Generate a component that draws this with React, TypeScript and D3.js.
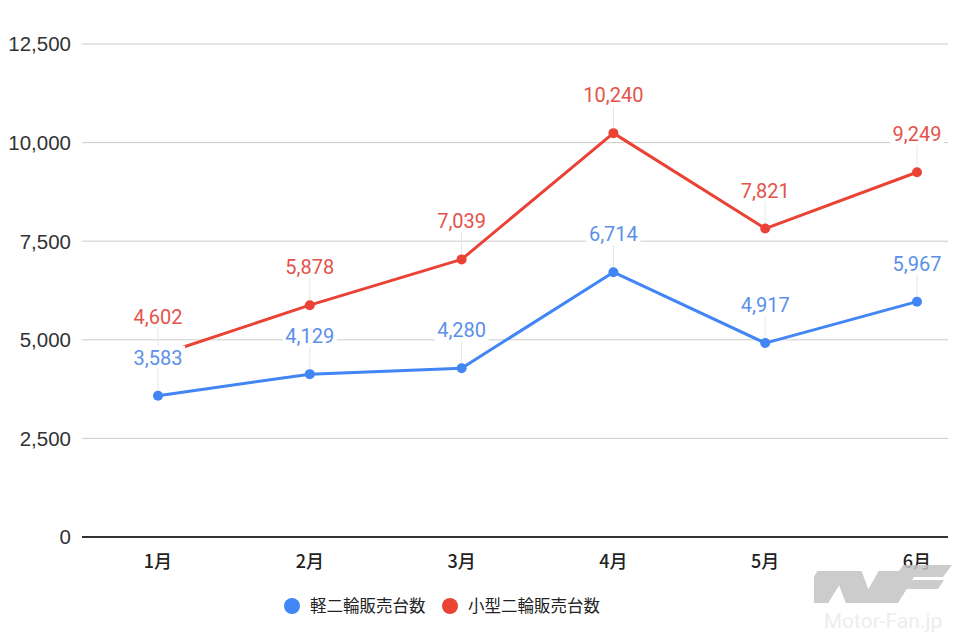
import * as d3 from 'd3';
import { useEffect } from 'react';

const months = ['1月', '2月', '3月', '4月', '5月', '6月'];
const keiValues = [3583, 4129, 4280, 6714, 4917, 5967];
const kogataValues = [4602, 5878, 7039, 10240, 7821, 9249];
const yTicks = [0, 2500, 5000, 7500, 10000, 12500];

const series = [
  { name: '軽二輪販売台数', values: keiValues, color: '#4285F4', label: '#5B8FEA' },
  { name: '小型二輪販売台数', values: kogataValues, color: '#EA4335', label: '#E4534A' },
];

const width = 960;
const height = 640;
const plotLeft = 82;
const plotRight = 948;

const fmt = d3.format(',');

// rough width of a label in 20px Roboto
const labelWidth = (s: string) =>
  s.split('').reduce((w, c) => w + (c === ',' ? 4.9 : 11.3), 0);

const App = () => {
  useEffect(() => {
    document.body.style.margin = '0';
  }, []);

  const x = d3.scalePoint<string>().domain(months).range([158, 917]);
  const y = d3.scaleLinear().domain([0, 12500]).range([537, 44]);

  const line = d3
    .line<number>()
    .x((_, i) => x(months[i])!)
    .y((d) => y(d));

  return (
    <svg width={width} height={height} style={{ display: 'block', background: '#fff' }}>
      {/* grid */}
      {yTicks.map((t) => (
        <g key={t}>
          <line
            x1={plotLeft}
            x2={plotRight}
            y1={y(t)}
            y2={y(t)}
            stroke={t === 0 ? '#333' : '#cccccc'}
            strokeWidth={t === 0 ? 2 : 1}
          />
          <text
            x={71}
            y={y(t)}
            dy="0.36em"
            textAnchor="end"
            fontFamily="'Liberation Sans', Arial, sans-serif"
            fontSize={20.5}
            fill="#333"
          >
            {fmt(t)}
          </text>
        </g>
      ))}

      {/* x labels */}
      {months.map((m) => (
        <text
          key={m}
          x={x(m)}
          y={568}
          textAnchor="middle"
          fontFamily="'Noto Sans CJK JP', sans-serif"
          fontSize={18}
          fontWeight={500}
          fill="#222"
        >
          {m}
        </text>
      ))}

      {/* watermark */}
      <g opacity={0.85}>
        <clipPath id="wm-clip">
          <rect x={814} y={571} width={90} height={32} />
        </clipPath>
        <polyline
          clipPath="url(#wm-clip)"
          points="790,640 842,556 866,620 902,556 920,600"
          fill="none"
          stroke="#c4c4c4"
          strokeWidth={26}
          strokeLinejoin="miter"
        />
        <polygon points="903,565 952,565 943,577 895,577" fill="#c4c4c4" />
        <polygon points="895,577 914,577 898,603 879,603" fill="#c4c4c4" />
        <polygon points="912,580 944,580 938,589 906,589" fill="#c4c4c4" />
        <text
          x={883}
          y={628}
          textAnchor="middle"
          fontFamily="Roboto, sans-serif"
          fontSize={21}
          fill="#ebebeb"
        >
          Motor-Fan.jp
        </text>
      </g>

      {/* leader lines */}
      {series.map((s) =>
        s.values.map((v, i) => (
          <line
            key={`${s.name}-lead-${i}`}
            x1={x(months[i])}
            x2={x(months[i])}
            y1={y(v)}
            y2={y(v) - 28}
            stroke="#e6e6e6"
            strokeWidth={1}
          />
        ))
      )}

      {/* lines and points */}
      {series.map((s) => (
        <g key={s.name}>
          <path d={line(s.values)!} fill="none" stroke={s.color} strokeWidth={3} strokeLinejoin="round" />
          {s.values.map((v, i) => (
            <circle key={i} cx={x(months[i])} cy={y(v)} r={5} fill={s.color} />
          ))}
        </g>
      ))}

      {/* value labels */}
      {series.map((s) =>
        s.values.map((v, i) => {
          const text = fmt(v);
          const w = labelWidth(text);
          const cx = x(months[i])!;
          const base = y(v) - 31;
          return (
            <g key={`${s.name}-lab-${i}`}>
              <rect x={cx - w / 2 - 2} y={base - 19} width={w + 4} height={23} fill="#fff" />
              <text
                x={cx}
                y={base}
                textAnchor="middle"
                fontFamily="Roboto, sans-serif"
                fontSize={20}
                fill={s.label}
              >
                {text}
              </text>
            </g>
          );
        })
      )}

      {/* legend */}
      {series.map((s, i) => {
        const lx = i === 0 ? 292 : 450;
        return (
          <g key={s.name}>
            <circle cx={lx} cy={606} r={8} fill={s.color} />
            <text
              x={lx + 18}
              y={606}
              dy="0.36em"
              fontFamily="'Noto Sans CJK JP', sans-serif"
              fontSize={16.5}
              fill="#222"
            >
              {s.name}
            </text>
          </g>
        );
      })}
    </svg>
  );
};

export default App;
